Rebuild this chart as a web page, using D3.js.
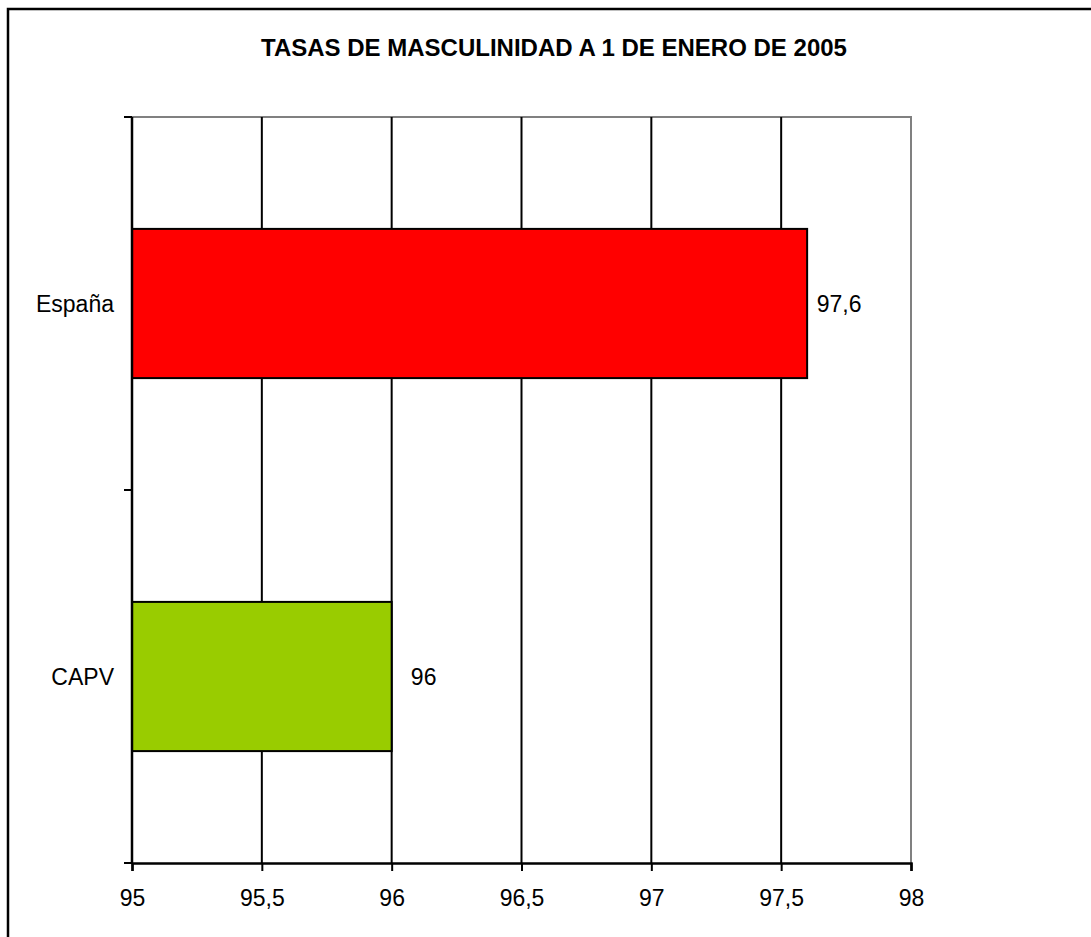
<!DOCTYPE html>
<html>
<head>
<meta charset="utf-8">
<script src="https://cdn.jsdelivr.net/npm/d3@7"></script>
<style>
  body { margin: 0; background: #fff; }
  text { font-family: "Liberation Sans", Arial, sans-serif; fill: #000; }
</style>
</head>
<body>
<div class="chart"></div>
<script>
var svgWidth = 1091;
var svgHeight = 937;

// data
var categories = ["España", "CAPV"];
var values = [97.6, 96];
var barColors = ["#ff0000", "#99cc00"];
var xTicks = [95, 95.5, 96, 96.5, 97, 97.5, 98];
var title = "TASAS DE MASCULINIDAD A 1 DE ENERO DE 2005";

var margin = { top: 117, left: 132 };
var width = 779;
var height = 746;

var svg = d3.select(".chart")
  .append("svg")
  .attr("width", svgWidth)
  .attr("height", svgHeight);

// outer frame (runs off the right and bottom edges)
svg.append("rect")
  .attr("x", 8)
  .attr("y", 9)
  .attr("width", 1200)
  .attr("height", 1100)
  .attr("fill", "none")
  .attr("stroke", "#000")
  .attr("stroke-width", 2.5);

svg.append("text")
  .attr("x", 554)
  .attr("y", 56)
  .attr("text-anchor", "middle")
  .style("font-size", "24px")
  .style("font-weight", "bold")
  .text(title);

var chartGroup = svg.append("g")
  .attr("transform", `translate(${margin.left}, ${margin.top})`);

var xLinearScale = d3.scaleLinear()
  .domain([95, 98])
  .range([0, width]);

var yBand = d3.scaleBand()
  .domain(categories)
  .range([0, height])
  .paddingInner(0.6)
  .paddingOuter(0.3);

// plot area frame: top and right in grey
chartGroup.append("path")
  .attr("d", `M0,0H${width}V${height}`)
  .attr("fill", "none")
  .attr("stroke", "#808080")
  .attr("stroke-width", 2);

// vertical gridlines
chartGroup.selectAll(".grid")
  .data(xTicks.slice(1, -1))
  .enter()
  .append("line")
  .attr("class", "grid")
  .attr("x1", d => xLinearScale(d))
  .attr("x2", d => xLinearScale(d))
  .attr("y1", 0)
  .attr("y2", height)
  .attr("stroke", "#000")
  .attr("stroke-width", 2);

// bars
chartGroup.selectAll("rect.bar")
  .data(values)
  .enter()
  .append("rect")
  .attr("class", "bar")
  .attr("x", xLinearScale(95))
  .attr("y", (d, i) => yBand(categories[i]))
  .attr("width", d => xLinearScale(d) - xLinearScale(95))
  .attr("height", yBand.bandwidth())
  .attr("fill", (d, i) => barColors[i])
  .attr("stroke", "#000")
  .attr("stroke-width", 2);

// value labels
chartGroup.selectAll("text.val")
  .data(values)
  .enter()
  .append("text")
  .attr("class", "val")
  .attr("x", d => xLinearScale(d) + 32)
  .attr("y", (d, i) => yBand(categories[i]) + yBand.bandwidth() / 2)
  .attr("dy", "0.35em")
  .attr("text-anchor", "middle")
  .style("font-size", "23px")
  .text(d => String(d).replace(".", ","));

// x axis
var bottomAxis = d3.axisBottom(xLinearScale)
  .tickValues(xTicks)
  .tickSize(8)
  .tickPadding(35)
  .tickFormat(d => String(d).replace(".", ","));

var xAxis = chartGroup.append("g")
  .attr("transform", `translate(0, ${height})`)
  .call(bottomAxis);

xAxis.select(".domain").attr("stroke-width", 2.5);
xAxis.selectAll(".tick line").attr("stroke-width", 2);
xAxis.selectAll(".tick text")
  .attr("dy", 0)
  .style("font-size", "23px")
  .style("font-family", "'Liberation Sans', Arial, sans-serif");

// y axis: line, ticks between categories, labels
var bounds = d3.range(categories.length + 1).map(i => i * height / categories.length);

chartGroup.append("line")
  .attr("x1", 0).attr("x2", 0)
  .attr("y1", 0).attr("y2", height)
  .attr("stroke", "#000")
  .attr("stroke-width", 2.5);

chartGroup.selectAll(".ytick")
  .data(bounds)
  .enter()
  .append("line")
  .attr("class", "ytick")
  .attr("x1", -8).attr("x2", 0)
  .attr("y1", d => d).attr("y2", d => d)
  .attr("stroke", "#000")
  .attr("stroke-width", 2);

chartGroup.selectAll("text.cat")
  .data(categories)
  .enter()
  .append("text")
  .attr("class", "cat")
  .attr("x", -18)
  .attr("y", d => yBand(d) + yBand.bandwidth() / 2)
  .attr("dy", "0.35em")
  .attr("text-anchor", "end")
  .style("font-size", "23px")
  .text(d => d);
</script>
</body>
</html>
